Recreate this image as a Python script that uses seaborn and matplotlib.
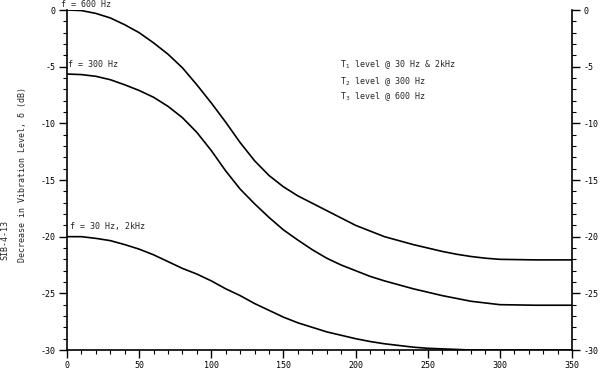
import numpy as np
import pandas as pd
import matplotlib
matplotlib.use('Agg')
import matplotlib.pyplot as plt
from matplotlib.ticker import MultipleLocator
import seaborn as sns

# distance values
x_vals = [0, 10, 20, 30, 40, 50, 60, 70, 80, 90, 100, 110, 120, 130, 140, 150,
          160, 170, 180, 190, 200, 210, 220, 230, 240, 250, 260, 270, 280, 290,
          300, 325, 350]
y_600 = [0.0, -0.05, -0.3, -0.7, -1.3, -2.0, -2.9, -3.9, -5.1, -6.6, -8.2, -9.9,
         -11.7, -13.3, -14.6, -15.6, -16.4, -17.05, -17.7, -18.35, -19.0, -19.5,
         -20.0, -20.35, -20.7, -21.0, -21.3, -21.55, -21.75, -21.9, -22.0,
         -22.05, -22.05]
y_300 = [-5.65, -5.7, -5.85, -6.15, -6.6, -7.1, -7.7, -8.5, -9.5, -10.8, -12.4,
         -14.2, -15.8, -17.1, -18.3, -19.4, -20.3, -21.15, -21.9, -22.5, -23.0,
         -23.5, -23.9, -24.25, -24.6, -24.9, -25.2, -25.45, -25.7, -25.85, -26.0,
         -26.05, -26.05]
y_30 = [-20.0, -20.0, -20.15, -20.35, -20.7, -21.1, -21.6, -22.2, -22.8, -23.3,
        -23.9, -24.6, -25.2, -25.9, -26.5, -27.1, -27.6, -28.0, -28.4, -28.7,
        -29.0, -29.25, -29.45, -29.6, -29.75, -29.85, -29.9, -29.95, -30.0,
        -30.0, -30.0, -30.0, -30.0]

curve_labels = ['f = 600 Hz', 'f = 300 Hz', 'f = 30 Hz, 2kHz']
legend_lines = ['T$_1$ level @ 30 Hz & 2kHz',
                'T$_2$ level @ 300 Hz',
                'T$_3$ level @ 600 Hz']

sns.set_style('ticks')
plt.rcParams['font.family'] = ['DejaVu Sans Mono', 'DejaVu Sans']
plt.rcParams['axes.unicode_minus'] = False
fs = 6

df = pd.DataFrame({'x': x_vals * 3,
                   'y': y_600 + y_300 + y_30,
                   'curve': [curve_labels[0]] * len(x_vals) + [curve_labels[1]] * len(x_vals)
                            + [curve_labels[2]] * len(x_vals)})

fig = plt.figure(figsize=(6, 3.7), dpi=100)
ax = fig.add_axes([67 / 600, 1 - 350 / 370, (572 - 67) / 600, 340 / 370])
sns.lineplot(data=df, x='x', y='y', units='curve', estimator=None, color='black',
             linewidth=1.2, ax=ax, legend=False)

ax.set_xlim(0, 350)
ax.set_ylim(-30, 0)
ax.xaxis.set_major_locator(MultipleLocator(50))
ax.xaxis.set_minor_locator(MultipleLocator(10))
ax.yaxis.set_major_locator(MultipleLocator(5))
ax.yaxis.set_minor_locator(MultipleLocator(1))
ax.tick_params(axis='both', which='both', direction='out', colors='black', labelsize=fs)
ax.tick_params(axis='y', which='both', left=True, right=True, labelleft=True, labelright=True)
ax.tick_params(which='major', length=6, width=1.0, pad=2)
ax.tick_params(which='minor', length=3, width=0.8)
ax.set_xlabel('')
ax.set_ylabel('')
for s in ['left', 'right', 'bottom']:
    ax.spines[s].set_visible(True)
    ax.spines[s].set_color('black')
    ax.spines[s].set_linewidth(1.2)
ax.spines['top'].set_visible(False)

ax.text(-4, 0.5, curve_labels[0], fontsize=fs, va='center', ha='left', clip_on=False)
ax.text(1, -4.77, curve_labels[1], fontsize=fs, va='center', ha='left')
ax.text(2, -19.06, curve_labels[2], fontsize=fs, va='center', ha='left')
for t, yy in zip(legend_lines, [-4.85, -6.3, -7.6]):
    ax.text(189, yy, t, fontsize=fs, va='center', ha='left')

fig.text(23 / 600, 1 - 175 / 370, 'Decrease in Vibration Level, \u03b4 (dB)', rotation=90,
         fontsize=fs, ha='center', va='center')
fig.text(5 / 600, 1 - 240 / 370, 'SIB-4-13', rotation=90, fontsize=fs,
         ha='center', va='center')

fig.savefig('out.png', dpi=100, facecolor='white')
